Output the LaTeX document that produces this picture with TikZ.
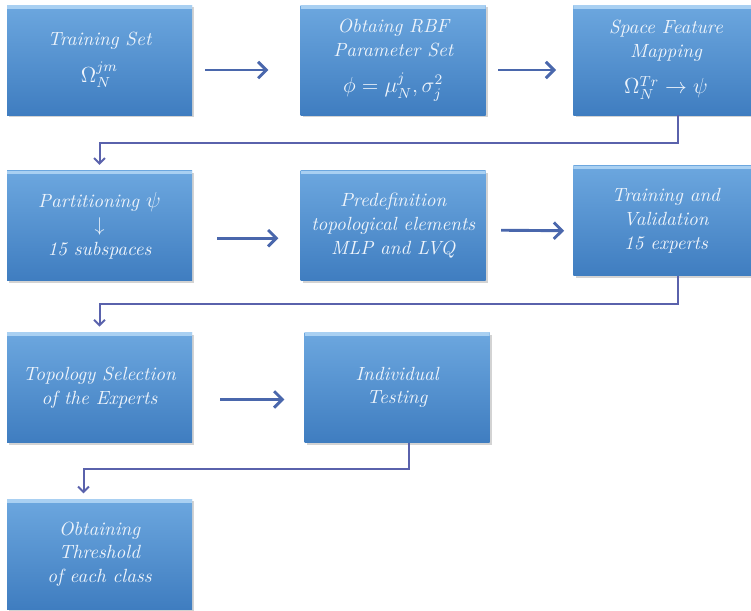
\documentclass[tikz,border=0pt]{standalone}
\usepackage{amsmath, amssymb}
\usepackage{tikz}
\usetikzlibrary{arrows.meta, positioning, calc, shadows}

\definecolor{boxtop}{HTML}{6CA7DF}
\definecolor{boxbot}{HTML}{3F7DC0}
\definecolor{boxhi}{HTML}{A9D0F2}
\definecolor{arrcol}{HTML}{4A67AC}
\definecolor{lnkcol}{HTML}{5A62AC}
\definecolor{txtcol}{HTML}{EEF4FB}

\begin{document}
\begin{tikzpicture}[
  x=0.55pt, y=0.55pt,
  box/.style={top color=boxtop, bottom color=boxbot, align=center,
    minimum width=101.75pt, minimum height=60.5pt, inner sep=2pt,
    text=txtcol, font=\fontsize{10.5}{13}\selectfont\itshape,
    drop shadow={shadow xshift=1.2pt, shadow yshift=-1.2pt, opacity=0.35},
    path picture={\fill[boxhi] (path picture bounding box.north west)
      rectangle ([yshift=-2pt]path picture bounding box.north east);}},
  arr/.style={-{Straight Barb[length=4.5pt, width=9pt]}, line width=1.6pt, arrcol},
  lnk/.style={-{Straight Barb[length=3pt, width=6pt]}, line width=1.1pt, lnkcol, shorten >=3pt},
  node distance=30.25pt and 59.4pt
]
\useasboundingbox (0,0) rectangle (751,-610);

% first row
\node[box] (train) at (99.5,-60) {Training Set\\[6pt] {\large $\Omega_N^{jm}$}};
\node[box, right=of train] (rbf) {Obtaing RBF\\Parameter Set\\[7pt] {\large $\phi=\mu_N^j,\sigma_j^2$}};
\node[box, right=47.85pt of rbf] (feat) {Space Feature\\Mapping\\[7pt] {\large $\Omega_N^{Tr}\rightarrow\psi$}};

% second row
\node[box, below=of train] (part) {Partitioning {\large $\psi$}\\$\downarrow$\\15 subspaces};
\node[box, right=of part] (predef) {Predefinition\\topological elements\\MLP and LVQ};
\node[box, right=47.85pt of predef, yshift=2.75pt] (valid) {Training and\\Validation\\15 experts};

% third row
\node[box, below=28.05pt of part] (topo) {Topology Selection\\of the Experts};
\node[box, right=61.6pt of topo] (indiv) {Individual\\Testing};

% last row
\node[box, below=30.8pt of topo] (thresh) {Obtaining\\Threshold\\of each class};

\draw[arr] ($(train.east)+(13,-10)$) -- ($(rbf.west)+(-32,-10)$);
\draw[arr] ($(rbf.east)+(12,-10)$) -- ($(feat.west)+(-17,-10)$);
\draw[arr] ($(part.east)+(25,-12.5)$) -- ($(predef.west)+(-22,-12.5)$);
\draw[arr] ($(predef.east)+(15,-4.5)$) -- ($(valid.west)+(-9,-10)$);
\draw[arr] ($(topo.east)+(28,-12)$) -- ($(indiv.west)+(-20,-12)$);

% row to row
\draw[lnk] ($(feat.south)+(12.5,0)$) -- ++(0,-28) -| (part.north);
\draw[lnk] ($(valid.south)+(12.5,0)$) -- ++(0,-28) -| (topo.north);
\draw[lnk] ($(indiv.south)+(11.5,0)$) -- ++(0,-26) -| ($(thresh.north)+(-16,0)$);
\end{tikzpicture}
\end{document}
